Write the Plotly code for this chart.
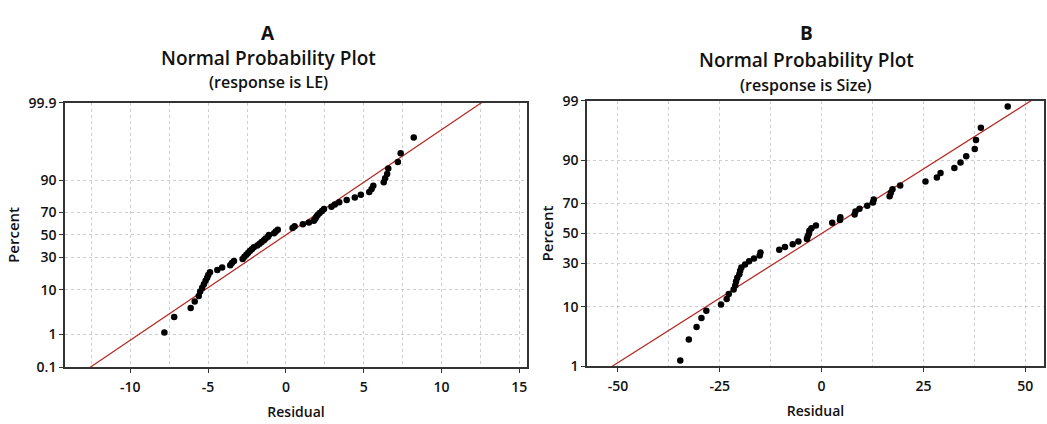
import plotly.graph_objects as go
from statistics import NormalDist

# ---------------- data ----------------
res_A = [-7.81, -7.18, -6.12, -5.86, -5.60, -5.51, -5.38, -5.27, -5.16, -5.06,
         -4.99, -4.88, -4.41, -4.10, -3.58, -3.47, -3.34, -2.78, -2.67, -2.54,
         -2.43, -2.32, -2.19, -2.06, -1.84, -1.69, -1.56, -1.41, -1.30, -1.15,
         -1.09, -0.76, -0.65, -0.52, 0.43, 0.56, 1.09, 1.48, 1.80, 1.89,
         1.95, 2.04, 2.17, 2.32, 2.45, 2.93, 3.15, 3.43, 3.91, 4.43,
         4.82, 5.36, 5.51, 5.62, 6.29, 6.38, 6.51, 6.58, 7.20, 7.38, 8.22]
pct_A = [1.14, 2.77, 4.40, 6.03, 7.65, 9.28, 10.9, 12.5, 14.2, 15.8,
         17.4, 19.1, 20.7, 22.3, 23.9, 25.6, 27.2, 28.8, 30.5, 32.1,
         33.7, 35.3, 37.0, 38.6, 40.2, 41.9, 43.5, 45.1, 46.7, 48.4,
         50.0, 51.6, 53.3, 54.9, 56.5, 58.1, 59.8, 61.4, 63.0, 64.7,
         66.3, 67.9, 69.5, 71.2, 72.8, 74.4, 76.1, 77.7, 79.3, 80.9,
         82.6, 84.2, 85.8, 87.5, 89.1, 90.7, 92.3, 94.0, 95.6, 97.2, 98.86]

res_B = [-34.7, -32.6, -30.7, -29.5, -28.3, -24.7, -23.3, -22.8, -21.6, -21.2,
         -21.0, -20.7, -20.2, -20.0, -19.7, -18.8, -17.8, -16.6, -15.2, -15.0,
         -10.4, -9.0, -7.1, -5.7, -3.6, -3.4, -3.1, -3.0, -2.5, -1.4,
         2.6, 4.5, 4.6, 8.1, 8.3, 9.3, 11.2, 12.6, 12.8, 16.7,
         17.0, 17.4, 19.3, 25.5, 28.3, 29.2, 32.6, 34.1, 35.5, 37.6,
         37.9, 39.1, 45.7]
pct_B = [1.31, 3.18, 5.06, 6.93, 8.80, 10.67, 12.55, 14.42, 16.29, 18.16,
         20.04, 21.91, 23.78, 25.66, 27.53, 29.40, 31.27, 33.15, 35.02, 36.89,
         38.76, 40.64, 42.51, 44.38, 46.25, 48.13, 50.0, 51.87, 53.75, 55.62,
         57.49, 59.36, 61.24, 63.11, 64.98, 66.85, 68.73, 70.60, 72.47, 74.34,
         76.22, 78.09, 79.96, 81.84, 83.71, 85.58, 87.45, 89.33, 91.20, 93.07,
         94.94, 96.82, 98.69]

# fitted normal reference lines (mean, std dev)
fit_A = (0.0, 4.07)
fit_B = (0.0, 22.1)
line_pct = [0.01, 99.99]

ticks_A = [0.1, 1, 10, 30, 50, 70, 90, 99.9]
ticks_B = [1, 10, 30, 50, 70, 90, 99]
labels_A = ["0.1", "1", "10", "30", "50", "70", "90", "99.9"]
labels_B = ["1", "10", "30", "50", "70", "90", "99"]
xticks_A = [-10, -5, 0, 5, 10, 15]
xlabels_A = ["-10", "-5", "0", "5", "10", "15"]
xticks_B = [-50, -25, 0, 25, 50]
xlabels_B = ["-50", "-25", "0", "25", "50"]

# ---------------- helpers ----------------
nd = NormalDist()
def z(p):
    return nd.inv_cdf(p / 100.0)

FONT = "Open Sans"
W, H = 1047, 424
def px_x(v): return v / W
def px_y(v): return 1 - v / H

fig = go.Figure()

for (res, pct, fit, xa, ya) in [(res_A, pct_A, fit_A, "x", "y"),
                                (res_B, pct_B, fit_B, "x2", "y2")]:
    mu, sd = fit
    fig.add_trace(go.Scatter(
        x=[mu + sd * z(p) for p in line_pct], y=[z(p) for p in line_pct],
        mode="lines", line=dict(color="#b5261e", width=1.2),
        xaxis=xa, yaxis=ya, showlegend=False, hoverinfo="skip"))
    fig.add_trace(go.Scatter(
        x=res, y=[z(p) for p in pct], mode="markers",
        marker=dict(color="black", size=6.5),
        xaxis=xa, yaxis=ya, showlegend=False))

grid = dict(gridcolor="#cfcfcf", griddash="dot", gridwidth=1)
axis_common = dict(showline=True, linecolor="#333333", linewidth=1.5, mirror=True,
                   ticks="outside", ticklen=4, tickcolor="#333333",
                   zeroline=False, showgrid=True,
                   tickfont=dict(family=FONT, size=14, color="#111", weight=600),
                   **grid)
xtitle_font = dict(family=FONT, size=14, color="#111", weight=600)
ytitle_font = dict(family=FONT, size=15, color="#111", weight=600)

fig.update_layout(
    width=W, height=H,
    margin=dict(l=0, r=0, t=0, b=0),
    paper_bgcolor="white", plot_bgcolor="white",
    xaxis=dict(domain=[px_x(65), px_x(527)], range=[-14.2, 15.5],
               tickvals=xticks_A, ticktext=xlabels_A, anchor="y",
               ticklabelstandoff=2,
               minor=dict(dtick=2.5, tick0=0, showgrid=True, ticks="", **grid),
               title=dict(text="Residual", font=xtitle_font, standoff=12),
               **axis_common),
    yaxis=dict(domain=[px_y(374), px_y(97)], range=[z(0.1), z(99.9)],
               tickvals=[z(p) for p in ticks_A], ticktext=labels_A, anchor="x",
               title=dict(text="Percent", font=ytitle_font, standoff=5),
               **axis_common),
    xaxis2=dict(domain=[px_x(587), px_x(1044)], range=[-57.6, 54.6],
                tickvals=xticks_B, ticktext=xlabels_B, anchor="y2",
                ticklabelstandoff=2,
                minor=dict(dtick=12.5, tick0=0, showgrid=True, ticks="", **grid),
                title=dict(text="Residual", font=xtitle_font, standoff=12),
                **axis_common),
    yaxis2=dict(domain=[px_y(373), px_y(95)], range=[z(1), z(99)],
                tickvals=[z(p) for p in ticks_B], ticktext=labels_B, anchor="x2",
                title=dict(text="Percent", font=ytitle_font, standoff=5),
                **axis_common),
)

def add_titles(cx, letter, sub, ys):
    fig.add_annotation(text="<b>%s</b>" % letter, x=px_x(cx), y=px_y(ys[0]),
                       xref="paper", yref="paper", showarrow=False,
                       xanchor="center", yanchor="middle",
                       font=dict(family=FONT, size=19, color="#111"))
    fig.add_annotation(text="Normal Probability Plot", x=px_x(cx), y=px_y(ys[1]),
                       xref="paper", yref="paper", showarrow=False,
                       xanchor="center", yanchor="middle",
                       font=dict(family=FONT, size=19, color="#111", weight=600))
    fig.add_annotation(text=sub, x=px_x(cx), y=px_y(ys[2]),
                       xref="paper", yref="paper", showarrow=False,
                       xanchor="center", yanchor="middle",
                       font=dict(family=FONT, size=16, color="#111", weight=600))

add_titles(268, "A", "(response is LE)", (24, 50, 75))
add_titles(806, "B", "(response is Size)", (24, 52, 79))

fig.write_html("out.html")
